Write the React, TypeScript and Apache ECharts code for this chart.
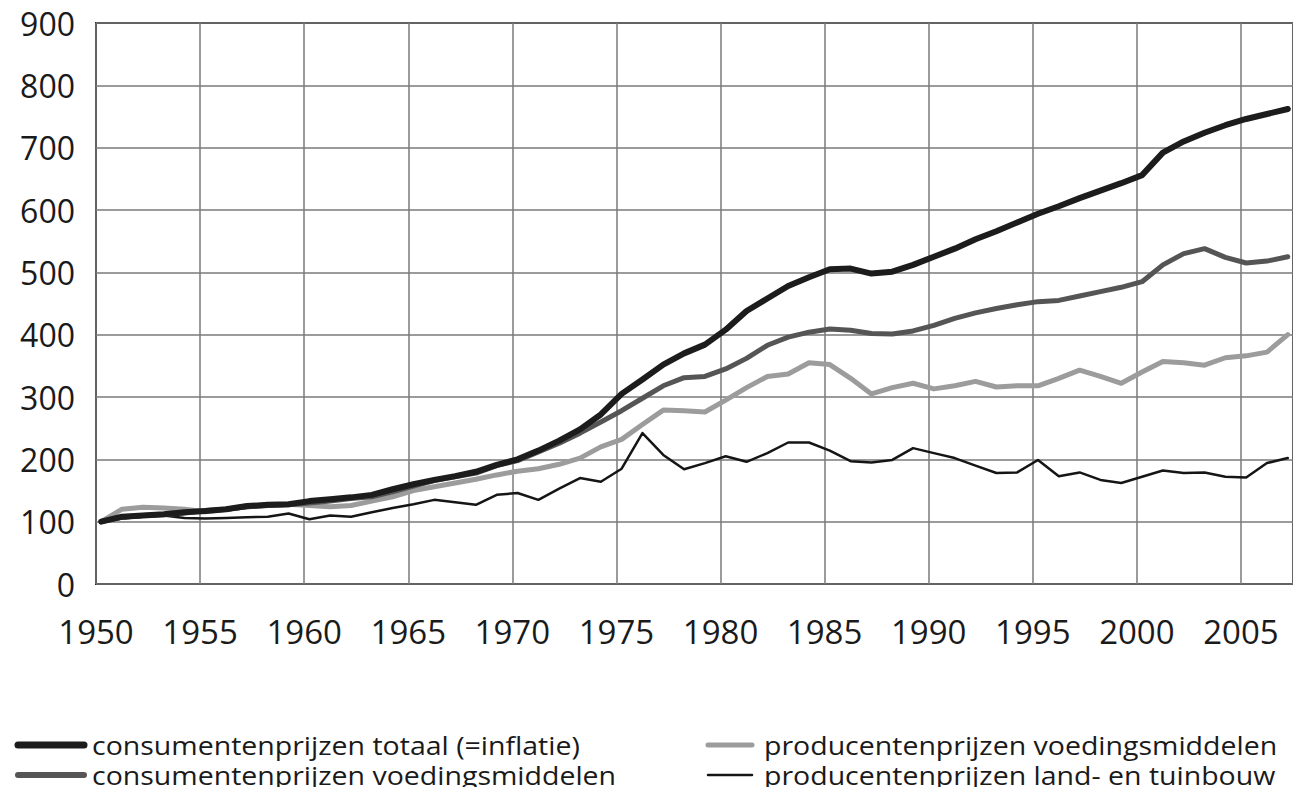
import React, { useEffect, useRef } from "react";
import * as echarts from "echarts";

const years = [
  1950, 1951, 1952, 1953, 1954, 1955, 1956, 1957, 1958, 1959,
  1960, 1961, 1962, 1963, 1964, 1965, 1966, 1967, 1968, 1969,
  1970, 1971, 1972, 1973, 1974, 1975, 1976, 1977, 1978, 1979,
  1980, 1981, 1982, 1983, 1984, 1985, 1986, 1987, 1988, 1989,
  1990, 1991, 1992, 1993, 1994, 1995, 1996, 1997, 1998, 1999,
  2000, 2001, 2002, 2003, 2004, 2005, 2006, 2007,
];

const consumentTotaal = [
  100, 108, 110, 112, 115, 117, 120, 125, 127, 128,
  133, 136, 139, 143, 152, 160, 167, 173, 180, 191,
  200, 214, 230, 248, 272, 305, 328, 352, 370, 384,
  408, 438, 458, 478, 492, 505, 506, 498, 501, 512,
  525, 538, 553, 566, 580, 594, 606, 619, 631, 643,
  656, 692, 710, 724, 736, 746, 754, 762,
];

const consumentVoeding = [
  100, 107, 110, 111, 114, 118, 120, 124, 126, 127,
  130, 133, 137, 140, 148, 157, 166, 172, 178, 190,
  198, 212, 226, 242, 260, 278, 298, 318, 331, 333,
  345, 362, 383, 396, 404, 409, 407, 402, 401, 406,
  415, 426, 435, 442, 448, 453, 455, 462, 469, 476,
  485, 512, 530, 538, 524, 515, 518, 525,
];

const producentVoeding = [
  100, 120, 123, 122, 120, 116, 120, 124, 126, 128,
  126, 124, 126, 133, 140, 150, 156, 162, 168, 175,
  181, 185, 192, 202, 220, 232, 256, 279, 278, 276,
  295, 315, 333, 337, 355, 352, 330, 305, 315, 322,
  313, 318, 325, 316, 318, 318, 330, 343, 333, 322,
  340, 357, 355, 351, 363, 366, 372, 400,
];

const producentLandTuinbouw = [
  100, 105, 108, 110, 106, 105, 106, 107, 108, 113,
  104, 110, 108, 115, 122, 128, 135, 131, 127, 143,
  146, 135, 153, 170, 164, 185, 242, 207, 184, 194,
  205, 196, 210, 227, 227, 214, 197, 195, 199, 218,
  210, 202, 190, 178, 179, 199, 173, 179, 167, 162,
  172, 182, 178, 179, 172, 171, 194, 202,
];

const yTicks = [0, 100, 200, 300, 400, 500, 600, 700, 800, 900];
const xTickLabels = [1950, 1955, 1960, 1965, 1970, 1975, 1980, 1985, 1990, 1995, 2000, 2005];

const seriesNames = [
  "consumentenprijzen totaal (=inflatie)",
  "consumentenprijzen voedingsmiddelen",
  "producentenprijzen voedingsmiddelen",
  "producentenprijzen land- en tuinbouw",
];

const FONT = "'Open Sans', 'Noto Sans', sans-serif";

function pairs(vals: number[]) {
  // values are plotted a little after the start of each year
  return years.map((y, i) => [y + 0.25, vals[i]]);
}

export default function App() {
  const ref = useRef<HTMLDivElement>(null);

  useEffect(() => {
    if (!ref.current) return;
    const chart = echarts.init(ref.current, null, { renderer: "svg" });

    const legendItems = [
      { name: seriesNames[0], color: "#1c1c1c", width: 7, x: 18, y: 745 },
      { name: seriesNames[1], color: "#555555", width: 6, x: 18, y: 775 },
      { name: seriesNames[2], color: "#9c9c9c", width: 5, x: 708, y: 745 },
      { name: seriesNames[3], color: "#151515", width: 2.5, x: 708, y: 775 },
    ];
    const legendGraphics: any[] = [];
    legendItems.forEach((it, i) => {
      const iconLen = i < 2 ? 66 : 44;
      legendGraphics.push({
        type: "line",
        shape: { x1: it.x, y1: it.y, x2: it.x + iconLen, y2: it.y },
        style: { stroke: it.color, lineWidth: it.width, lineCap: "round" },
      });
      legendGraphics.push({
        type: "text",
        x: i < 2 ? 92 : 764,
        y: it.y,
        scaleX: 1.14,
        style: {
          text: it.name,
          fill: "#1a1a1a",
          fontSize: 25,
          fontFamily: FONT,
          verticalAlign: "middle",
          align: "left",
        },
      });
    });

    chart.setOption({
      animation: false,
      backgroundColor: "#ffffff",
      grid: {
        left: 96,
        right: 8,
        top: 23,
        bottom: 211,
        show: true,
        borderColor: "#222222",
        borderWidth: 2,
        containLabel: false,
      },
      xAxis: {
        type: "value",
        min: 1950,
        max: 2007.5,
        interval: 5,
        axisLine: { show: false },
        axisTick: { show: false },
        axisLabel: {
          show: true,
          fontSize: 33,
          fontFamily: FONT,
          color: "#1a1a1a",
          margin: 31,
          showMaxLabel: false,
          formatter: (v: number) => (xTickLabels.includes(v) ? String(v) : ""),
        },
        splitLine: { show: true, lineStyle: { color: "#7a7a7a", width: 1.5 } },
      },
      yAxis: {
        type: "value",
        min: yTicks[0],
        max: yTicks[yTicks.length - 1],
        interval: 100,
        axisLine: { show: false },
        axisTick: { show: false },
        axisLabel: {
          fontSize: 32,
          fontFamily: FONT,
          color: "#1a1a1a",
          margin: 21,
        },
        splitLine: { show: true, lineStyle: { color: "#7a7a7a", width: 1.5 } },
      },
      series: [
        {
          name: seriesNames[3],
          type: "line",
          data: pairs(producentLandTuinbouw),
          symbol: "none",
          lineStyle: { color: "#151515", width: 2.5, cap: "round", join: "round" },
          z: 3,
        },
        {
          name: seriesNames[2],
          type: "line",
          data: pairs(producentVoeding),
          symbol: "none",
          lineStyle: { color: "#9c9c9c", width: 5, cap: "round", join: "round" },
          z: 4,
        },
        {
          name: seriesNames[1],
          type: "line",
          data: pairs(consumentVoeding),
          symbol: "none",
          lineStyle: { color: "#555555", width: 5, cap: "round", join: "round" },
          z: 5,
        },
        {
          name: seriesNames[0],
          type: "line",
          data: pairs(consumentTotaal),
          symbol: "none",
          lineStyle: { color: "#1c1c1c", width: 6, cap: "round", join: "round" },
          z: 6,
        },
      ],
      graphic: legendGraphics,
    });

    return () => chart.dispose();
  }, []);

  return <div ref={ref} style={{ width: 1301, height: 795, margin: -8 }} />;
}
